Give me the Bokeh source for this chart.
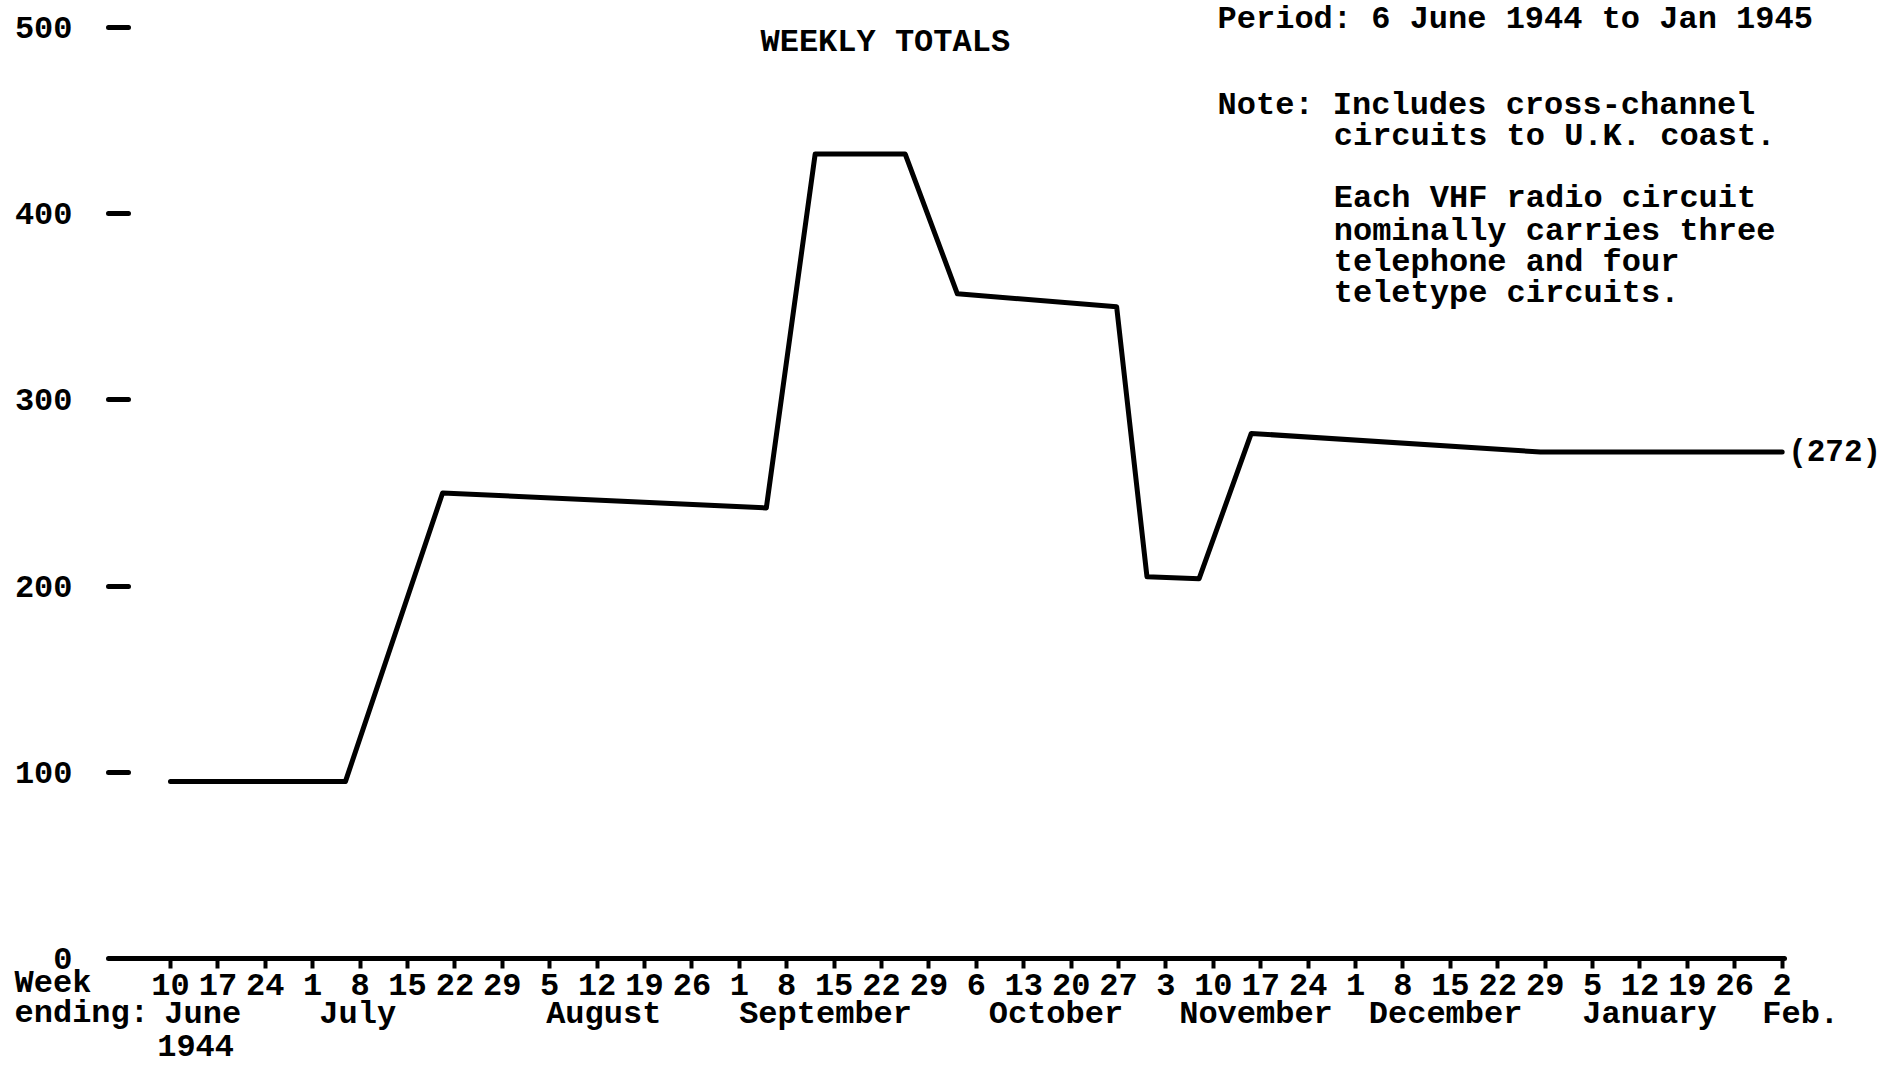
from bokeh.plotting import figure
from bokeh.models import Range1d, LinearAxis, FixedTicker, Label
from bokeh.embed import file_html
from bokeh.resources import INLINE

# ---- data ----
day_labels = ["10", "17", "24", "1", "8", "15", "22", "29", "5", "12", "19", "26",
              "1", "8", "15", "22", "29", "6", "13", "20", "27", "3", "10", "17", "24",
              "1", "8", "15", "22", "29", "5", "12", "19", "26", "2"]
month_names = ["June", "July", "August", "September", "October", "November",
               "December", "January", "Feb."]
month_label_pos = [0.68, 3.95, 9.14, 13.82, 18.68, 22.9, 26.9, 31.2, 34.39]
y_ticks = [0, 100, 200, 300, 400, 500]

# weeks after week ending 10 June 1944 (fractional where the drawn corners fall)
week_pos = [0, 3.69, 5.74, 12.57, 13.6, 15.5, 16.6, 19.96, 20.6, 21.7, 22.8, 28.9, 34]
circuits = [95, 95, 250, 242, 432, 432, 357, 350, 205, 204, 282, 272, 272]
end_label = "(272)"

title_text = "WEEKLY TOTALS"
period_text = "Period: 6 June 1944 to Jan 1945"
note_lines = ["Note: Includes cross-channel", "circuits to U.K. coast."]
each_lines = ["Each VHF radio circuit", "nominally carries three",
              "telephone and four", "teletype circuits."]

FONT = "Liberation Mono"
FS = "32px"

p = figure(width=1885, height=1065,
           x_range=Range1d(-3.586, 36.18), y_range=Range1d(-57.46, 514.5),
           output_backend="svg", toolbar_location=None,
           x_axis_type=None, y_axis_type=None,
           min_border_left=0, min_border_right=0,
           min_border_top=0, min_border_bottom=0)
p.outline_line_color = None
p.background_fill_color = "white"
p.border_fill_color = "white"


def style_labels(ax):
    ax.major_label_text_font = FONT
    ax.major_label_text_font_style = "bold"
    ax.major_label_text_font_size = FS
    ax.major_label_text_color = "black"
    ax.minor_tick_line_color = None


# y axis: labels with dashes, no axis line
yax = LinearAxis(ticker=FixedTicker(ticks=y_ticks), fixed_location=-0.886)
yax.axis_line_color = None
yax.major_tick_out = 20
yax.major_tick_in = 0
yax.major_tick_line_width = 5
yax.major_tick_line_cap = "round"
yax.major_label_standoff = 36
style_labels(yax)
p.add_layout(yax, "left")

# x axis with week-ending day numbers
xax = LinearAxis(ticker=FixedTicker(ticks=list(range(len(day_labels)))),
                 fixed_location=0, bounds=(-0.97, 34.04))
xax.major_label_overrides = {i: d for i, d in enumerate(day_labels)}
xax.axis_line_width = 5
xax.axis_line_color = "black"
xax.axis_line_cap = "round"
xax.major_tick_out = 10
xax.major_tick_in = 0
xax.major_tick_line_width = 4
xax.major_label_standoff = 5
style_labels(xax)
p.add_layout(xax, "below")

# month names axis
mx = LinearAxis(ticker=FixedTicker(ticks=month_label_pos), fixed_location=0)
mx.major_label_overrides = {pos: m for pos, m in zip(month_label_pos, month_names)}
mx.axis_line_color = None
mx.major_tick_line_color = None
mx.major_tick_out = 0
mx.major_tick_in = 0
mx.major_label_standoff = 37
style_labels(mx)
p.add_layout(mx, "below")

# the data line
p.line(week_pos, circuits, line_width=5, line_color="black",
       line_join="round", line_cap="round")


def lab(text, x, y, align="left", baseline="middle", size=FS, **kw):
    p.add_layout(Label(x=x, y=y, text=text, text_font=FONT, text_font_style="bold",
                       text_font_size=size, text_color="black", text_align=align,
                       text_baseline=baseline, **kw))


lab(end_label, week_pos[-1], circuits[-1], x_offset=6, size="31px")
lab(period_text, 22.09, 504.3, baseline="alphabetic")
lab(title_text, 15.08, 491.9, align="center")
lab(note_lines[0], 22.09, 458.1)
lab(note_lines[1], 24.54, 441.5)
for t, yy in zip(each_lines, [408.2, 390.4, 373.8, 357.1]):
    lab(t, 24.54, yy)
lab("1944", 0.53, -46.8, align="center")
lab("Week", -3.29, -13.4)
lab("ending:", -3.29, -29.5)

open("out.html", "w").write(file_html(p, INLINE))
